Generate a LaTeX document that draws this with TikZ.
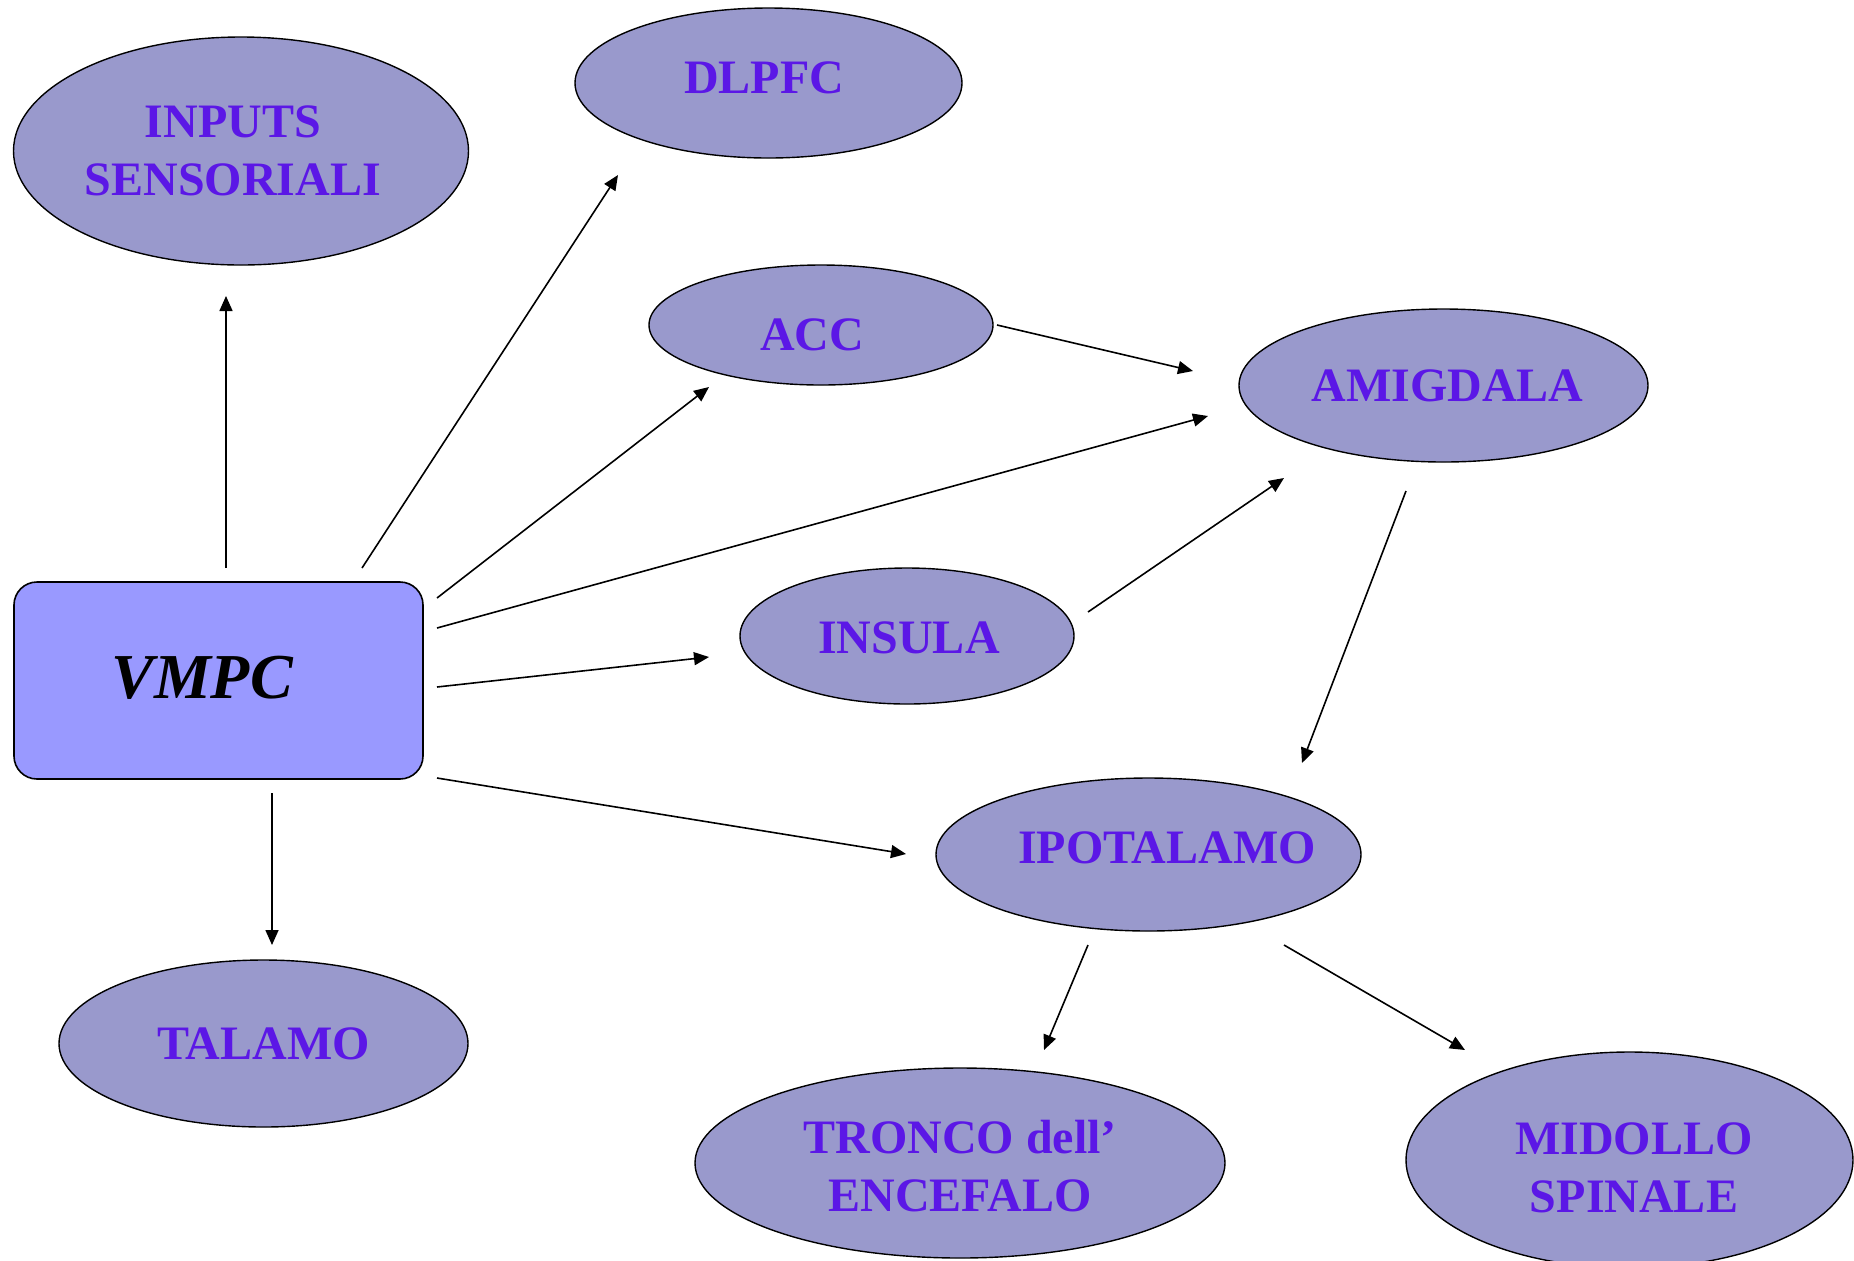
\documentclass[tikz,border=0pt]{standalone}
\usepackage{fontspec}
\setmainfont{Liberation Serif}
\usetikzlibrary{shapes.geometric,arrows.meta}
\definecolor{ellfill}{HTML}{9999CC}
\definecolor{boxfill}{HTML}{9999FF}
\definecolor{txt}{HTML}{5B17E6}
\begin{document}
\begin{tikzpicture}[x=0.5pt,y=-0.5pt,
 ell/.style={ellipse, draw=black, line width=0.7pt, fill=ellfill, inner sep=0pt},
 lbl/.style={font=\fontsize{24}{29}\selectfont\bfseries, text=txt, align=center},
 arr/.style={-{Triangle[length=7.5pt,width=6.5pt]}, line width=0.8pt}]
\useasboundingbox[fill=white] (0,0) rectangle (1854,1260);
% nodes
\node[ell, minimum width=227.5pt, minimum height=114pt,
  label={[lbl,xshift=-4pt]center:{INPUTS\\SENSORIALI}}] (inputs) at (241,151) {};
\node[ell, minimum width=193.5pt, minimum height=75pt,
  label={[lbl,xshift=-2.25pt,yshift=2.5pt]center:DLPFC}] (dlpfc) at (768.5,83) {};
\node[ell, minimum width=172pt, minimum height=60pt,
  label={[lbl,xshift=-4.5pt,yshift=-5pt]center:ACC}] (acc) at (821,325) {};
\node[ell, minimum width=204.5pt, minimum height=76.5pt,
  label={[lbl,xshift=2pt]center:AMIGDALA}] (amig) at (1443.5,385.5) {};
\node[ell, minimum width=167pt, minimum height=68pt,
  label={[lbl,xshift=1pt,yshift=-1pt]center:INSULA}] (insula) at (907,636) {};
\node[ell, minimum width=212.5pt, minimum height=76.5pt,
  label={[lbl,xshift=9.25pt,yshift=3.25pt]center:IPOTALAMO}] (ipot) at (1148.5,854.5) {};
\node[ell, minimum width=204.5pt, minimum height=83.5pt,
  label={[lbl]center:TALAMO}] (talamo) at (263.5,1043.5) {};
\node[ell, minimum width=265pt, minimum height=95pt,
  label={[lbl,yshift=-1.5pt]center:{TRONCO dell’\\ENCEFALO}}] (tronco) at (960,1163) {};
\node[ell, minimum width=223.5pt, minimum height=108pt,
  label={[lbl,xshift=2.25pt,yshift=-4pt]center:{MIDOLLO\\SPINALE}}] (midollo) at (1629.5,1160) {};
\node[draw=black, line width=0.8pt, fill=boxfill, rounded corners=11.5pt,
  minimum width=204.5pt, minimum height=98.5pt, inner sep=0pt,
  label={[font=\fontsize{32}{36}\selectfont\bfseries\itshape, xshift=-8.25pt, yshift=1.25pt]center:VMPC}] (vmpc) at (218.5,680.5) {};
% connectors
\draw[arr] ([shift={(7.5,-112.5)}]vmpc.center) -- ([shift={(-15,145)}]inputs.center);
\draw[arr] ([shift={(143.5,-112.5)}]vmpc.center) -- ([shift={(-150.5,92)}]dlpfc.center);
\draw[arr] ([shift={(218.5,-82.5)}]vmpc.center) -- ([shift={(-112,62)}]acc.center);
\draw[arr] ([shift={(218.5,-52.5)}]vmpc.center) -- ([shift={(-235.5,30.5)}]amig.center);
\draw[arr] ([shift={(218.5,6.5)}]vmpc.center) -- ([shift={(-198,21)}]insula.center);
\draw[arr] ([shift={(218.5,97.5)}]vmpc.center) -- ([shift={(-242.5,-0.5)}]ipot.center);
\draw[arr] ([shift={(53.5,112.5)}]vmpc.center) -- ([shift={(8.5,-98.5)}]talamo.center);
\draw[arr] ([shift={(176,0)}]acc.center) -- ([shift={(-250.5,-14.5)}]amig.center);
\draw[arr] ([shift={(181,-24)}]insula.center) -- ([shift={(-159.5,92.5)}]amig.center);
\draw[arr] ([shift={(-37.5,105.5)}]amig.center) -- ([shift={(153.5,-91.5)}]ipot.center);
\draw[arr] ([shift={(-60.5,90.5)}]ipot.center) -- ([shift={(84,-113)}]tronco.center);
\draw[arr] ([shift={(135.5,90.5)}]ipot.center) -- ([shift={(-164.5,-110)}]midollo.center);
\end{tikzpicture}
\end{document}
